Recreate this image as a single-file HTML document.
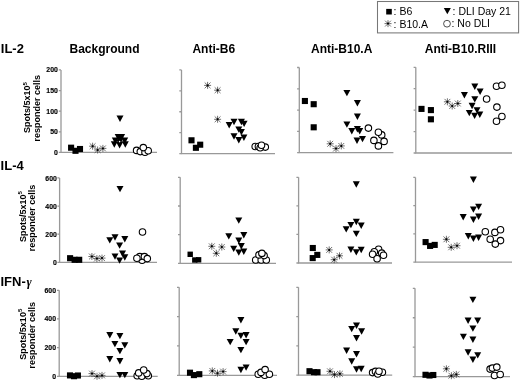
<!DOCTYPE html>
<html><head><meta charset="utf-8"><style>
html,body{margin:0;padding:0;background:#fff;}
body{width:520px;height:381px;overflow:hidden;}
svg{display:block;will-change:transform;font-family:"Liberation Sans",sans-serif;}
.h{font-weight:bold;font-size:12px;}
.r{font-weight:bold;font-size:13px;}
.tk{font-weight:bold;font-size:6.9px;text-anchor:end;stroke:#000;stroke-width:0.15px;}
.yl{font-weight:bold;font-size:9px;}
.sup{font-size:6px;}
.lg{font-size:10.5px;}
.c{fill:#fff;stroke:#000;stroke-width:1.1;}
</style></head><body>
<svg width="520" height="381" viewBox="0 0 520 381">
<defs>
<g id="ast" stroke="#333" stroke-width="0.7" fill="none">
<path d="M-3.5 0H3.5M0 -3.5V3.5M-2.9 -2.9L2.9 2.9M-2.9 2.9L2.9 -2.9"/>
<circle r="1" fill="#000" stroke="none"/>
</g>
</defs>
<text x="0.8" y="53.2" class="r">IL-2</text>
<text x="0.6" y="170.4" class="r">IL-4</text>
<text x="0.5" y="285.7" class="r">IFN-<tspan font-family="Liberation Serif" font-style="italic" font-weight="bold" font-size="12.5px" dx="0.6">γ</tspan></text>
<text x="69.5" y="52.9" class="h">Background</text>
<text x="192.4" y="52.9" class="h">Anti-B6</text>
<text x="311" y="52.9" class="h">Anti-B10.A</text>
<text x="424.8" y="52.9" class="h">Anti-B10.RIII</text>
<text class="yl" transform="translate(30.4 107.5) rotate(-90)" text-anchor="middle">Spots/5x10<tspan class="sup" dy="-3.2">5</tspan></text><text class="yl" transform="translate(40 108.2) rotate(-90)" text-anchor="middle">responder cells</text><text class="yl" transform="translate(25.6 216.6) rotate(-90)" text-anchor="middle">Spots/5x10<tspan class="sup" dy="-3.2">5</tspan></text><text class="yl" transform="translate(35.2 218) rotate(-90)" text-anchor="middle">responder cells</text><text class="yl" transform="translate(25.6 334.2) rotate(-90)" text-anchor="middle">Spots/5x10<tspan class="sup" dy="-3.2">5</tspan></text><text class="yl" transform="translate(35.2 335.2) rotate(-90)" text-anchor="middle">responder cells</text>
<!-- legend -->
<rect x="377.5" y="1.5" width="141.1" height="31.4" fill="none" stroke="#777" stroke-width="1.05"/>
<rect x="386.2" y="8.9" width="5.6" height="5.6"/>
<text x="393.6" y="14.9" class="lg">: B6</text>
<use href="#ast" x="388" y="23.6"/>
<text x="393.6" y="27.7" class="lg">: B10.A</text>
<path d="M443.8 8.1h7l-3.5 6.2z"/>
<text x="452.6" y="14.9" class="lg">: DLI Day 21</text>
<circle cx="447" cy="23.7" r="3.4" fill="none" stroke="#222" stroke-width="0.8"/>
<text x="451.5" y="27.4" class="lg">: No DLI</text>
<path d="M61 69.9V152.4H157" stroke="#999" stroke-width="1.3" fill="none"/>
<path d="M58.8 69.9H61M58.8 90.53H61M58.8 111.15H61M58.8 131.78H61M58.8 152.4H61" stroke="#999" stroke-width="1.3" fill="none"/>
<text x="57.8" y="72.4" class="tk">200</text>
<text x="57.8" y="93.03" class="tk">150</text>
<text x="57.8" y="113.65" class="tk">100</text>
<text x="57.8" y="134.28" class="tk">50</text>
<text x="57.8" y="154.9" class="tk">0</text>
<rect x="68.05" y="144.65" width="6.1" height="6.1"/>
<rect x="72.45" y="147.75" width="6.1" height="6.1"/>
<rect x="76.95" y="145.95" width="6.1" height="6.1"/>
<use href="#ast" x="92.6" y="146.2"/>
<use href="#ast" x="97.6" y="150"/>
<use href="#ast" x="102.9" y="148.4"/>
<path d="M116.5 115.5h7.0l-3.5 6.4z"/>
<path d="M114.7 134h7.0l-3.5 6.4z"/>
<path d="M118.1 134h7.0l-3.5 6.4z"/>
<path d="M111.8 137.5h7.0l-3.5 6.4z"/>
<path d="M116.5 137h7.0l-3.5 6.4z"/>
<path d="M121.2 137.5h7.0l-3.5 6.4z"/>
<path d="M116.1 139.2h7.0l-3.5 6.4z"/>
<path d="M110.8 141.3h7.0l-3.5 6.4z"/>
<path d="M121.8 141.3h7.0l-3.5 6.4z"/>
<path d="M116.1 142h7.0l-3.5 6.4z"/>
<circle cx="136.6" cy="150.4" r="3.25" class="c"/>
<circle cx="140.3" cy="151.6" r="3.25" class="c"/>
<circle cx="145" cy="152.2" r="3.25" class="c"/>
<circle cx="148.2" cy="150.7" r="3.25" class="c"/>
<circle cx="143.3" cy="147.6" r="3.25" class="c"/>
<circle cx="119.6" cy="141.6" r="0.8" fill="#fff"/>
<path d="M181.5 69.9V153.6H275" stroke="#999" stroke-width="1.3" fill="none"/>
<path d="M179.3 69.9H181.5M179.3 90.83H181.5M179.3 111.75H181.5M179.3 132.68H181.5M179.3 153.6H181.5" stroke="#999" stroke-width="1.3" fill="none"/>
<rect x="188.45" y="137.25" width="6.1" height="6.1"/>
<rect x="192.85" y="144.75" width="6.1" height="6.1"/>
<rect x="197.15" y="141.65" width="6.1" height="6.1"/>
<use href="#ast" x="207.6" y="85.4"/>
<use href="#ast" x="217.6" y="90.2"/>
<use href="#ast" x="217.6" y="119.3"/>
<path d="M225.7 122h7.0l-3.5 6.4z"/>
<path d="M230.5 118.8h7.0l-3.5 6.4z"/>
<path d="M237.9 118.8h7.0l-3.5 6.4z"/>
<path d="M240.6 120.7h7.0l-3.5 6.4z"/>
<path d="M235.3 126.4h7.0l-3.5 6.4z"/>
<path d="M237.9 128.9h7.0l-3.5 6.4z"/>
<path d="M230.5 133.3h7.0l-3.5 6.4z"/>
<path d="M240.4 134.5h7.0l-3.5 6.4z"/>
<path d="M235.3 137h7.0l-3.5 6.4z"/>
<circle cx="255.2" cy="146.5" r="3.25" class="c"/>
<circle cx="258.4" cy="146.5" r="3.25" class="c"/>
<circle cx="265.3" cy="147.1" r="3.25" class="c"/>
<circle cx="260.2" cy="147.8" r="3.25" class="c"/>
<circle cx="261.5" cy="145.2" r="3.25" class="c"/>
<path d="M299.3 67.5V152.7H393.4" stroke="#999" stroke-width="1.3" fill="none"/>
<path d="M297.1 67.5H299.3M297.1 88.8H299.3M297.1 110.1H299.3M297.1 131.4H299.3M297.1 152.7H299.3" stroke="#999" stroke-width="1.3" fill="none"/>
<rect x="301.85" y="97.95" width="6.1" height="6.1"/>
<rect x="310.65" y="101.15" width="6.1" height="6.1"/>
<rect x="310.65" y="124.25" width="6.1" height="6.1"/>
<use href="#ast" x="330.2" y="143.8"/>
<use href="#ast" x="336" y="148.6"/>
<use href="#ast" x="341.3" y="145.9"/>
<path d="M343.4 89.9h7.0l-3.5 6.4z"/>
<path d="M353.9 100h7.0l-3.5 6.4z"/>
<path d="M353.9 113.5h7.0l-3.5 6.4z"/>
<path d="M343.4 121.4h7.0l-3.5 6.4z"/>
<path d="M348.3 128.1h7.0l-3.5 6.4z"/>
<path d="M353.9 126.1h7.0l-3.5 6.4z"/>
<path d="M356.2 128.1h7.0l-3.5 6.4z"/>
<path d="M353.5 137.5h7.0l-3.5 6.4z"/>
<path d="M359 135.9h7.0l-3.5 6.4z"/>
<circle cx="368.4" cy="128.1" r="3.25" class="c"/>
<circle cx="381.7" cy="134.9" r="3.25" class="c"/>
<circle cx="378.4" cy="132.2" r="3.25" class="c"/>
<circle cx="373.9" cy="140.4" r="3.25" class="c"/>
<circle cx="384.1" cy="141.4" r="3.25" class="c"/>
<circle cx="378.4" cy="145.9" r="3.25" class="c"/>
<path d="M415.8 67.3V153H512" stroke="#999" stroke-width="1.3" fill="none"/>
<path d="M413.6 67.3H415.8M413.6 88.72H415.8M413.6 110.15H415.8M413.6 131.57H415.8M413.6 153H415.8" stroke="#999" stroke-width="1.3" fill="none"/>
<rect x="418.45" y="105.85" width="6.1" height="6.1"/>
<rect x="427.85" y="107.05" width="6.1" height="6.1"/>
<rect x="427.85" y="116.25" width="6.1" height="6.1"/>
<use href="#ast" x="447.4" y="101.8"/>
<use href="#ast" x="452.2" y="106"/>
<use href="#ast" x="457.8" y="103.5"/>
<path d="M471.3 83.5h7.0l-3.5 6.4z"/>
<path d="M476.6 88.5h7.0l-3.5 6.4z"/>
<path d="M460.9 92.1h7.0l-3.5 6.4z"/>
<path d="M471.3 96.2h7.0l-3.5 6.4z"/>
<path d="M468.6 102.8h7.0l-3.5 6.4z"/>
<path d="M473.5 107.2h7.0l-3.5 6.4z"/>
<path d="M465.8 109.9h7.0l-3.5 6.4z"/>
<path d="M471.1 112.7h7.0l-3.5 6.4z"/>
<path d="M476.3 111.6h7.0l-3.5 6.4z"/>
<circle cx="496.5" cy="86.3" r="3.25" class="c"/>
<circle cx="501.9" cy="85.3" r="3.25" class="c"/>
<circle cx="486.6" cy="99" r="3.25" class="c"/>
<circle cx="496.9" cy="107.1" r="3.25" class="c"/>
<circle cx="501.9" cy="116.5" r="3.25" class="c"/>
<circle cx="496.5" cy="121.3" r="3.25" class="c"/>
<path d="M59.6 177.9V262.3H157" stroke="#999" stroke-width="1.3" fill="none"/>
<path d="M57.4 177.9H59.6M57.4 206.03H59.6M57.4 234.17H59.6M57.4 262.3H59.6" stroke="#999" stroke-width="1.3" fill="none"/>
<text x="56.8" y="180.9" class="tk">600</text>
<text x="56.8" y="209.03" class="tk">400</text>
<text x="56.8" y="237.17" class="tk">200</text>
<text x="56.8" y="265.3" class="tk">0</text>
<rect x="67.05" y="255.15" width="6.1" height="6.1"/>
<rect x="71.55" y="256.75" width="6.1" height="6.1"/>
<rect x="76.15" y="256.75" width="6.1" height="6.1"/>
<use href="#ast" x="91.9" y="256.5"/>
<use href="#ast" x="96.9" y="258.6"/>
<use href="#ast" x="102" y="258.1"/>
<path d="M116.5 185.9h7.0l-3.5 6.4z"/>
<path d="M106.3 237.2h7.0l-3.5 6.4z"/>
<path d="M111.5 234.3h7.0l-3.5 6.4z"/>
<path d="M121.3 236.1h7.0l-3.5 6.4z"/>
<path d="M116.1 242.4h7.0l-3.5 6.4z"/>
<path d="M119 250.5h7.0l-3.5 6.4z"/>
<path d="M111.5 253.4h7.0l-3.5 6.4z"/>
<path d="M121.3 254.3h7.0l-3.5 6.4z"/>
<path d="M116.1 257.4h7.0l-3.5 6.4z"/>
<circle cx="142.5" cy="232" r="3.25" class="c"/>
<circle cx="142.1" cy="260.3" r="3.25" class="c"/>
<circle cx="139.8" cy="256.6" r="3.25" class="c"/>
<circle cx="144.4" cy="256.6" r="3.25" class="c"/>
<circle cx="147.3" cy="258.6" r="3.25" class="c"/>
<circle cx="136.9" cy="258.2" r="3.25" class="c"/>
<path d="M180.2 177.3V263.4H276" stroke="#999" stroke-width="1.3" fill="none"/>
<path d="M178 177.3H180.2M178 206H180.2M178 234.7H180.2M178 263.4H180.2" stroke="#999" stroke-width="1.3" fill="none"/>
<rect x="187.5" y="251.6" width="5.4" height="5.4"/>
<rect x="192.1" y="257.3" width="5.4" height="5.4"/>
<rect x="195.9" y="257.1" width="5.4" height="5.4"/>
<use href="#ast" x="211.8" y="246.3"/>
<use href="#ast" x="216.3" y="253.3"/>
<use href="#ast" x="221.8" y="247"/>
<path d="M235.3 217.4h7.0l-3.5 6.4z"/>
<path d="M225.3 233.2h7.0l-3.5 6.4z"/>
<path d="M240.3 232.1h7.0l-3.5 6.4z"/>
<path d="M235.3 237.6h7.0l-3.5 6.4z"/>
<path d="M237.8 243.1h7.0l-3.5 6.4z"/>
<path d="M230.2 245.7h7.0l-3.5 6.4z"/>
<path d="M235.3 249.4h7.0l-3.5 6.4z"/>
<path d="M240.3 248.5h7.0l-3.5 6.4z"/>
<circle cx="255.7" cy="260" r="3.25" class="c"/>
<circle cx="261.2" cy="260" r="3.25" class="c"/>
<circle cx="266.3" cy="260" r="3.25" class="c"/>
<circle cx="259" cy="254.9" r="3.25" class="c"/>
<circle cx="264.1" cy="255.6" r="3.25" class="c"/>
<circle cx="261.9" cy="253.4" r="3.25" class="c"/>
<path d="M298.6 177.3V263H392" stroke="#999" stroke-width="1.3" fill="none"/>
<path d="M296.4 177.3H298.6M296.4 205.87H298.6M296.4 234.43H298.6M296.4 263H298.6" stroke="#999" stroke-width="1.3" fill="none"/>
<rect x="309.75" y="244.95" width="6.1" height="6.1"/>
<rect x="314.25" y="251.85" width="6.1" height="6.1"/>
<rect x="309.65" y="255.05" width="6.1" height="6.1"/>
<use href="#ast" x="329.2" y="249.9"/>
<use href="#ast" x="334.2" y="259.7"/>
<use href="#ast" x="339.5" y="255.8"/>
<path d="M352.8 181.3h7.0l-3.5 6.4z"/>
<path d="M352.8 218.8h7.0l-3.5 6.4z"/>
<path d="M347.4 221.9h7.0l-3.5 6.4z"/>
<path d="M357.7 222.6h7.0l-3.5 6.4z"/>
<path d="M342.7 226.2h7.0l-3.5 6.4z"/>
<path d="M352.8 230.7h7.0l-3.5 6.4z"/>
<path d="M347.4 246.5h7.0l-3.5 6.4z"/>
<path d="M352.8 249.2h7.0l-3.5 6.4z"/>
<path d="M357.7 246.8h7.0l-3.5 6.4z"/>
<circle cx="378.6" cy="249.2" r="3.25" class="c"/>
<circle cx="374.3" cy="251.7" r="3.25" class="c"/>
<circle cx="372.6" cy="254.3" r="3.25" class="c"/>
<circle cx="381.7" cy="253.1" r="3.25" class="c"/>
<circle cx="383.5" cy="255.3" r="3.25" class="c"/>
<circle cx="377.1" cy="258.8" r="3.25" class="c"/>
<path d="M415.5 177.4V262.2H512" stroke="#999" stroke-width="1.3" fill="none"/>
<path d="M413.3 177.4H415.5M413.3 205.67H415.5M413.3 233.93H415.5M413.3 262.2H415.5" stroke="#999" stroke-width="1.3" fill="none"/>
<rect x="422.55" y="239.05" width="6.1" height="6.1"/>
<rect x="427.05" y="242.85" width="6.1" height="6.1"/>
<rect x="431.65" y="241.85" width="6.1" height="6.1"/>
<use href="#ast" x="446.4" y="239.3"/>
<use href="#ast" x="451.2" y="247.3"/>
<use href="#ast" x="457" y="245.7"/>
<path d="M469.9 176.5h7.0l-3.5 6.4z"/>
<path d="M475.1 203.7h7.0l-3.5 6.4z"/>
<path d="M469.9 206.4h7.0l-3.5 6.4z"/>
<path d="M459.7 214h7.0l-3.5 6.4z"/>
<path d="M475.1 213.6h7.0l-3.5 6.4z"/>
<path d="M469.9 216.6h7.0l-3.5 6.4z"/>
<path d="M464.8 233h7.0l-3.5 6.4z"/>
<path d="M469.9 235.5h7.0l-3.5 6.4z"/>
<path d="M475.1 234.5h7.0l-3.5 6.4z"/>
<circle cx="485.3" cy="231.8" r="3.25" class="c"/>
<circle cx="494.9" cy="232.4" r="3.25" class="c"/>
<circle cx="500.5" cy="229.8" r="3.25" class="c"/>
<circle cx="490.2" cy="239.2" r="3.25" class="c"/>
<circle cx="500.5" cy="240.6" r="3.25" class="c"/>
<circle cx="495.3" cy="244.1" r="3.25" class="c"/>
<path d="M59.2 290.3V376.3H157.7" stroke="#999" stroke-width="1.3" fill="none"/>
<path d="M57 290.3H59.2M57 318.97H59.2M57 347.63H59.2M57 376.3H59.2" stroke="#999" stroke-width="1.3" fill="none"/>
<text x="56" y="292.8" class="tk">600</text>
<text x="56" y="321.47" class="tk">400</text>
<text x="56" y="350.13" class="tk">200</text>
<text x="56" y="378.8" class="tk">0</text>
<rect x="66.95" y="372.35" width="6.1" height="6.1"/>
<rect x="70.95" y="373.15" width="6.1" height="6.1"/>
<rect x="74.85" y="372.45" width="6.1" height="6.1"/>
<use href="#ast" x="92" y="373.6"/>
<use href="#ast" x="97" y="376.3"/>
<use href="#ast" x="102" y="375.4"/>
<path d="M106.3 332.1h7.0l-3.5 6.4z"/>
<path d="M116.4 332.9h7.0l-3.5 6.4z"/>
<path d="M111.4 340.9h7.0l-3.5 6.4z"/>
<path d="M121.3 342.2h7.0l-3.5 6.4z"/>
<path d="M116.4 347.9h7.0l-3.5 6.4z"/>
<path d="M106.3 356h7.0l-3.5 6.4z"/>
<path d="M116.4 358h7.0l-3.5 6.4z"/>
<path d="M116.4 371.9h7.0l-3.5 6.4z"/>
<path d="M121.3 371.9h7.0l-3.5 6.4z"/>
<circle cx="137.2" cy="375.8" r="3.25" class="c"/>
<circle cx="141.8" cy="376.3" r="3.25" class="c"/>
<circle cx="148.3" cy="375.8" r="3.25" class="c"/>
<circle cx="138.7" cy="372.9" r="3.25" class="c"/>
<circle cx="146.9" cy="373.6" r="3.25" class="c"/>
<circle cx="143.7" cy="370" r="3.25" class="c"/>
<path d="M179.2 287.3V375.3H277" stroke="#999" stroke-width="1.3" fill="none"/>
<path d="M177 287.3H179.2M177 316.63H179.2M177 345.97H179.2M177 375.3H179.2" stroke="#999" stroke-width="1.3" fill="none"/>
<rect x="186.95" y="369.65" width="6.1" height="6.1"/>
<rect x="190.85" y="372.05" width="6.1" height="6.1"/>
<rect x="196.25" y="371.15" width="6.1" height="6.1"/>
<use href="#ast" x="212.3" y="370.9"/>
<use href="#ast" x="217.5" y="373.2"/>
<use href="#ast" x="223.1" y="371.6"/>
<path d="M237.4 317.1h7.0l-3.5 6.4z"/>
<path d="M232.3 328.3h7.0l-3.5 6.4z"/>
<path d="M237.4 332.7h7.0l-3.5 6.4z"/>
<path d="M242.6 332h7.0l-3.5 6.4z"/>
<path d="M226.7 338.9h7.0l-3.5 6.4z"/>
<path d="M242.6 338.9h7.0l-3.5 6.4z"/>
<path d="M237.4 346.9h7.0l-3.5 6.4z"/>
<path d="M242.6 364.4h7.0l-3.5 6.4z"/>
<path d="M237.4 366.8h7.0l-3.5 6.4z"/>
<circle cx="258.2" cy="374.3" r="3.25" class="c"/>
<circle cx="264.7" cy="375.2" r="3.25" class="c"/>
<circle cx="269.4" cy="374.3" r="3.25" class="c"/>
<circle cx="261" cy="372.4" r="3.25" class="c"/>
<circle cx="265.1" cy="369.6" r="3.25" class="c"/>
<path d="M298.5 287.3V375.1H392.2" stroke="#999" stroke-width="1.3" fill="none"/>
<path d="M296.3 287.3H298.5M296.3 316.57H298.5M296.3 345.83H298.5M296.3 375.1H298.5" stroke="#999" stroke-width="1.3" fill="none"/>
<rect x="306.45" y="368.15" width="6.1" height="6.1"/>
<rect x="310.95" y="369.15" width="6.1" height="6.1"/>
<rect x="314.45" y="369.15" width="6.1" height="6.1"/>
<use href="#ast" x="330" y="371.3"/>
<use href="#ast" x="334.5" y="374.6"/>
<use href="#ast" x="339.9" y="373.8"/>
<path d="M353 322.5h7.0l-3.5 6.4z"/>
<path d="M348.2 325.9h7.0l-3.5 6.4z"/>
<path d="M358.1 328.3h7.0l-3.5 6.4z"/>
<path d="M353 335.1h7.0l-3.5 6.4z"/>
<path d="M343.1 347.5h7.0l-3.5 6.4z"/>
<path d="M353 351h7.0l-3.5 6.4z"/>
<path d="M348.2 358.3h7.0l-3.5 6.4z"/>
<path d="M353 366.3h7.0l-3.5 6.4z"/>
<path d="M357.7 365.8h7.0l-3.5 6.4z"/>
<circle cx="372.6" cy="372.6" r="3.25" class="c"/>
<circle cx="375.5" cy="371.4" r="3.25" class="c"/>
<circle cx="382.4" cy="372.2" r="3.25" class="c"/>
<circle cx="377.8" cy="374" r="3.25" class="c"/>
<circle cx="379" cy="371.2" r="3.25" class="c"/>
<path d="M415 288.3V376.6H510" stroke="#999" stroke-width="1.3" fill="none"/>
<path d="M412.8 288.3H415M412.8 317.73H415M412.8 347.17H415M412.8 376.6H415" stroke="#999" stroke-width="1.3" fill="none"/>
<rect x="422.45" y="371.75" width="6.1" height="6.1"/>
<rect x="426.45" y="372.45" width="6.1" height="6.1"/>
<rect x="430.25" y="371.95" width="6.1" height="6.1"/>
<use href="#ast" x="446.4" y="368.8"/>
<use href="#ast" x="451.4" y="375.7"/>
<use href="#ast" x="456.3" y="374.4"/>
<path d="M469.4 296.7h7.0l-3.5 6.4z"/>
<path d="M464.6 317.5h7.0l-3.5 6.4z"/>
<path d="M474.2 317.5h7.0l-3.5 6.4z"/>
<path d="M469.4 325.4h7.0l-3.5 6.4z"/>
<path d="M459.9 333.7h7.0l-3.5 6.4z"/>
<path d="M469.4 336.6h7.0l-3.5 6.4z"/>
<path d="M464.6 349.3h7.0l-3.5 6.4z"/>
<path d="M474.2 352.2h7.0l-3.5 6.4z"/>
<path d="M469.4 356.5h7.0l-3.5 6.4z"/>
<circle cx="490.1" cy="369.1" r="3.25" class="c"/>
<circle cx="492.4" cy="368.1" r="3.25" class="c"/>
<circle cx="496.8" cy="367.1" r="3.25" class="c"/>
<circle cx="494.5" cy="375.5" r="3.25" class="c"/>
<circle cx="500.2" cy="374.5" r="3.25" class="c"/>
</svg>
</body></html>
